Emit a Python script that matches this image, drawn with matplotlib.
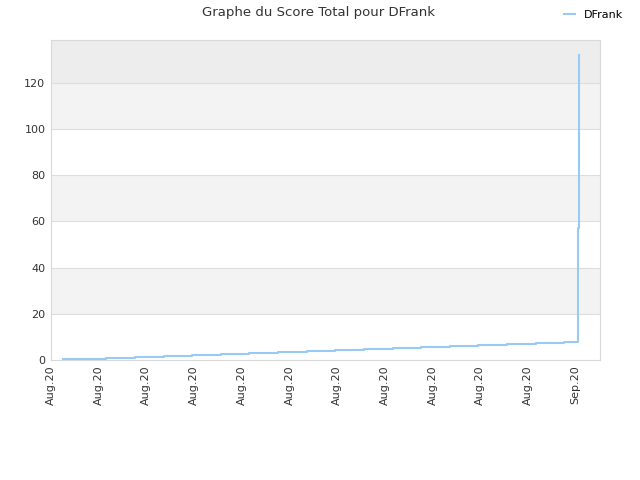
import datetime as dt
import matplotlib
matplotlib.use('Agg')
import matplotlib.pyplot as plt
import matplotlib.dates as mdates

# score history (time of change, total score)
times = [ '2020-08-01 18:00', '2020-08-02 17:00', '2020-08-04 11:00', '2020-08-06 07:00',
          '2020-08-08 03:00', '2020-08-09 21:00', '2020-08-11 17:00', '2020-08-13 11:00',
          '2020-08-15 07:00', '2020-08-17 02:00', '2020-08-18 21:00', '2020-08-20 16:00',
          '2020-08-22 12:00', '2020-08-24 06:00', '2020-08-26 02:00', '2020-08-27 21:00',
          '2020-08-29 16:00', '2020-08-31 12:00', '2020-09-02 06:00', '2020-09-03 03:00',
          '2020-09-03 05:00' ]
scores = [ 0.3, 0.6, 1.0, 1.4, 1.9, 2.3, 2.7, 3.2, 3.6, 4.0, 4.5, 4.9, 5.3, 5.8,
           6.2, 6.6, 7.1, 7.5, 7.9, 57, 132 ]
player = 'DFrank'
tick_dates = [ '2020-08-01', '2020-08-04', '2020-08-07', '2020-08-10', '2020-08-13', '2020-08-16',
               '2020-08-19', '2020-08-22', '2020-08-25', '2020-08-28', '2020-08-31', '2020-09-03' ]

dates = [ dt.datetime.strptime(t, '%Y-%m-%d %H:%M') for t in times ]
ticks = [ dt.datetime.strptime(t, '%Y-%m-%d') for t in tick_dates ]

fig = plt.figure(figsize=(6.4, 4.8), dpi=100)
ax = fig.add_axes([51/640, 1-360/480, (600-51)/640, (360-40)/480])

ymax = 138.6
# alternating bands
band_cols = ['#ffffff', '#f3f3f3']
for i, y0 in enumerate(range(0, 120, 20)):
  ax.axhspan(y0, y0+20, color=band_cols[i % 2], zorder=0, lw=0)
ax.axhspan(120, ymax, color='#ededed', zorder=0, lw=0)
for y in range(20, 140, 20):
  ax.axhline(y, color='#dedede', lw=0.8, zorder=1)

ax.plot(dates, scores, drawstyle='steps-post', c='#99c9f5', lw=1.5, label=player, zorder=3)

ax.set_xlim(dt.datetime(2020, 8, 1), dt.datetime(2020, 9, 4, 12, 45))
ax.set_ylim(0, ymax)
ax.set_yticks(range(0, 140, 20))
ax.set_xticks(ticks)
ax.xaxis.set_major_formatter(mdates.DateFormatter('%b.%y'))
for lab in ax.get_xticklabels():
  lab.set_rotation(90)

ax.tick_params(axis='both', length=0, labelsize=8, labelcolor='#333333', pad=4)
for s in ax.spines.values():
  s.set_color('#d9d9d9')

fig.text(0.497, 0.974, 'Graphe du Score Total pour DFrank', ha='center', va='center',
         fontsize=9.5, color='#333333')
fig.legend(loc='upper right', bbox_to_anchor=(0.99, 1.0), frameon=False, fontsize=8,
           handlelength=1.0, handletextpad=0.8)

fig.savefig('out.png', dpi=100)
